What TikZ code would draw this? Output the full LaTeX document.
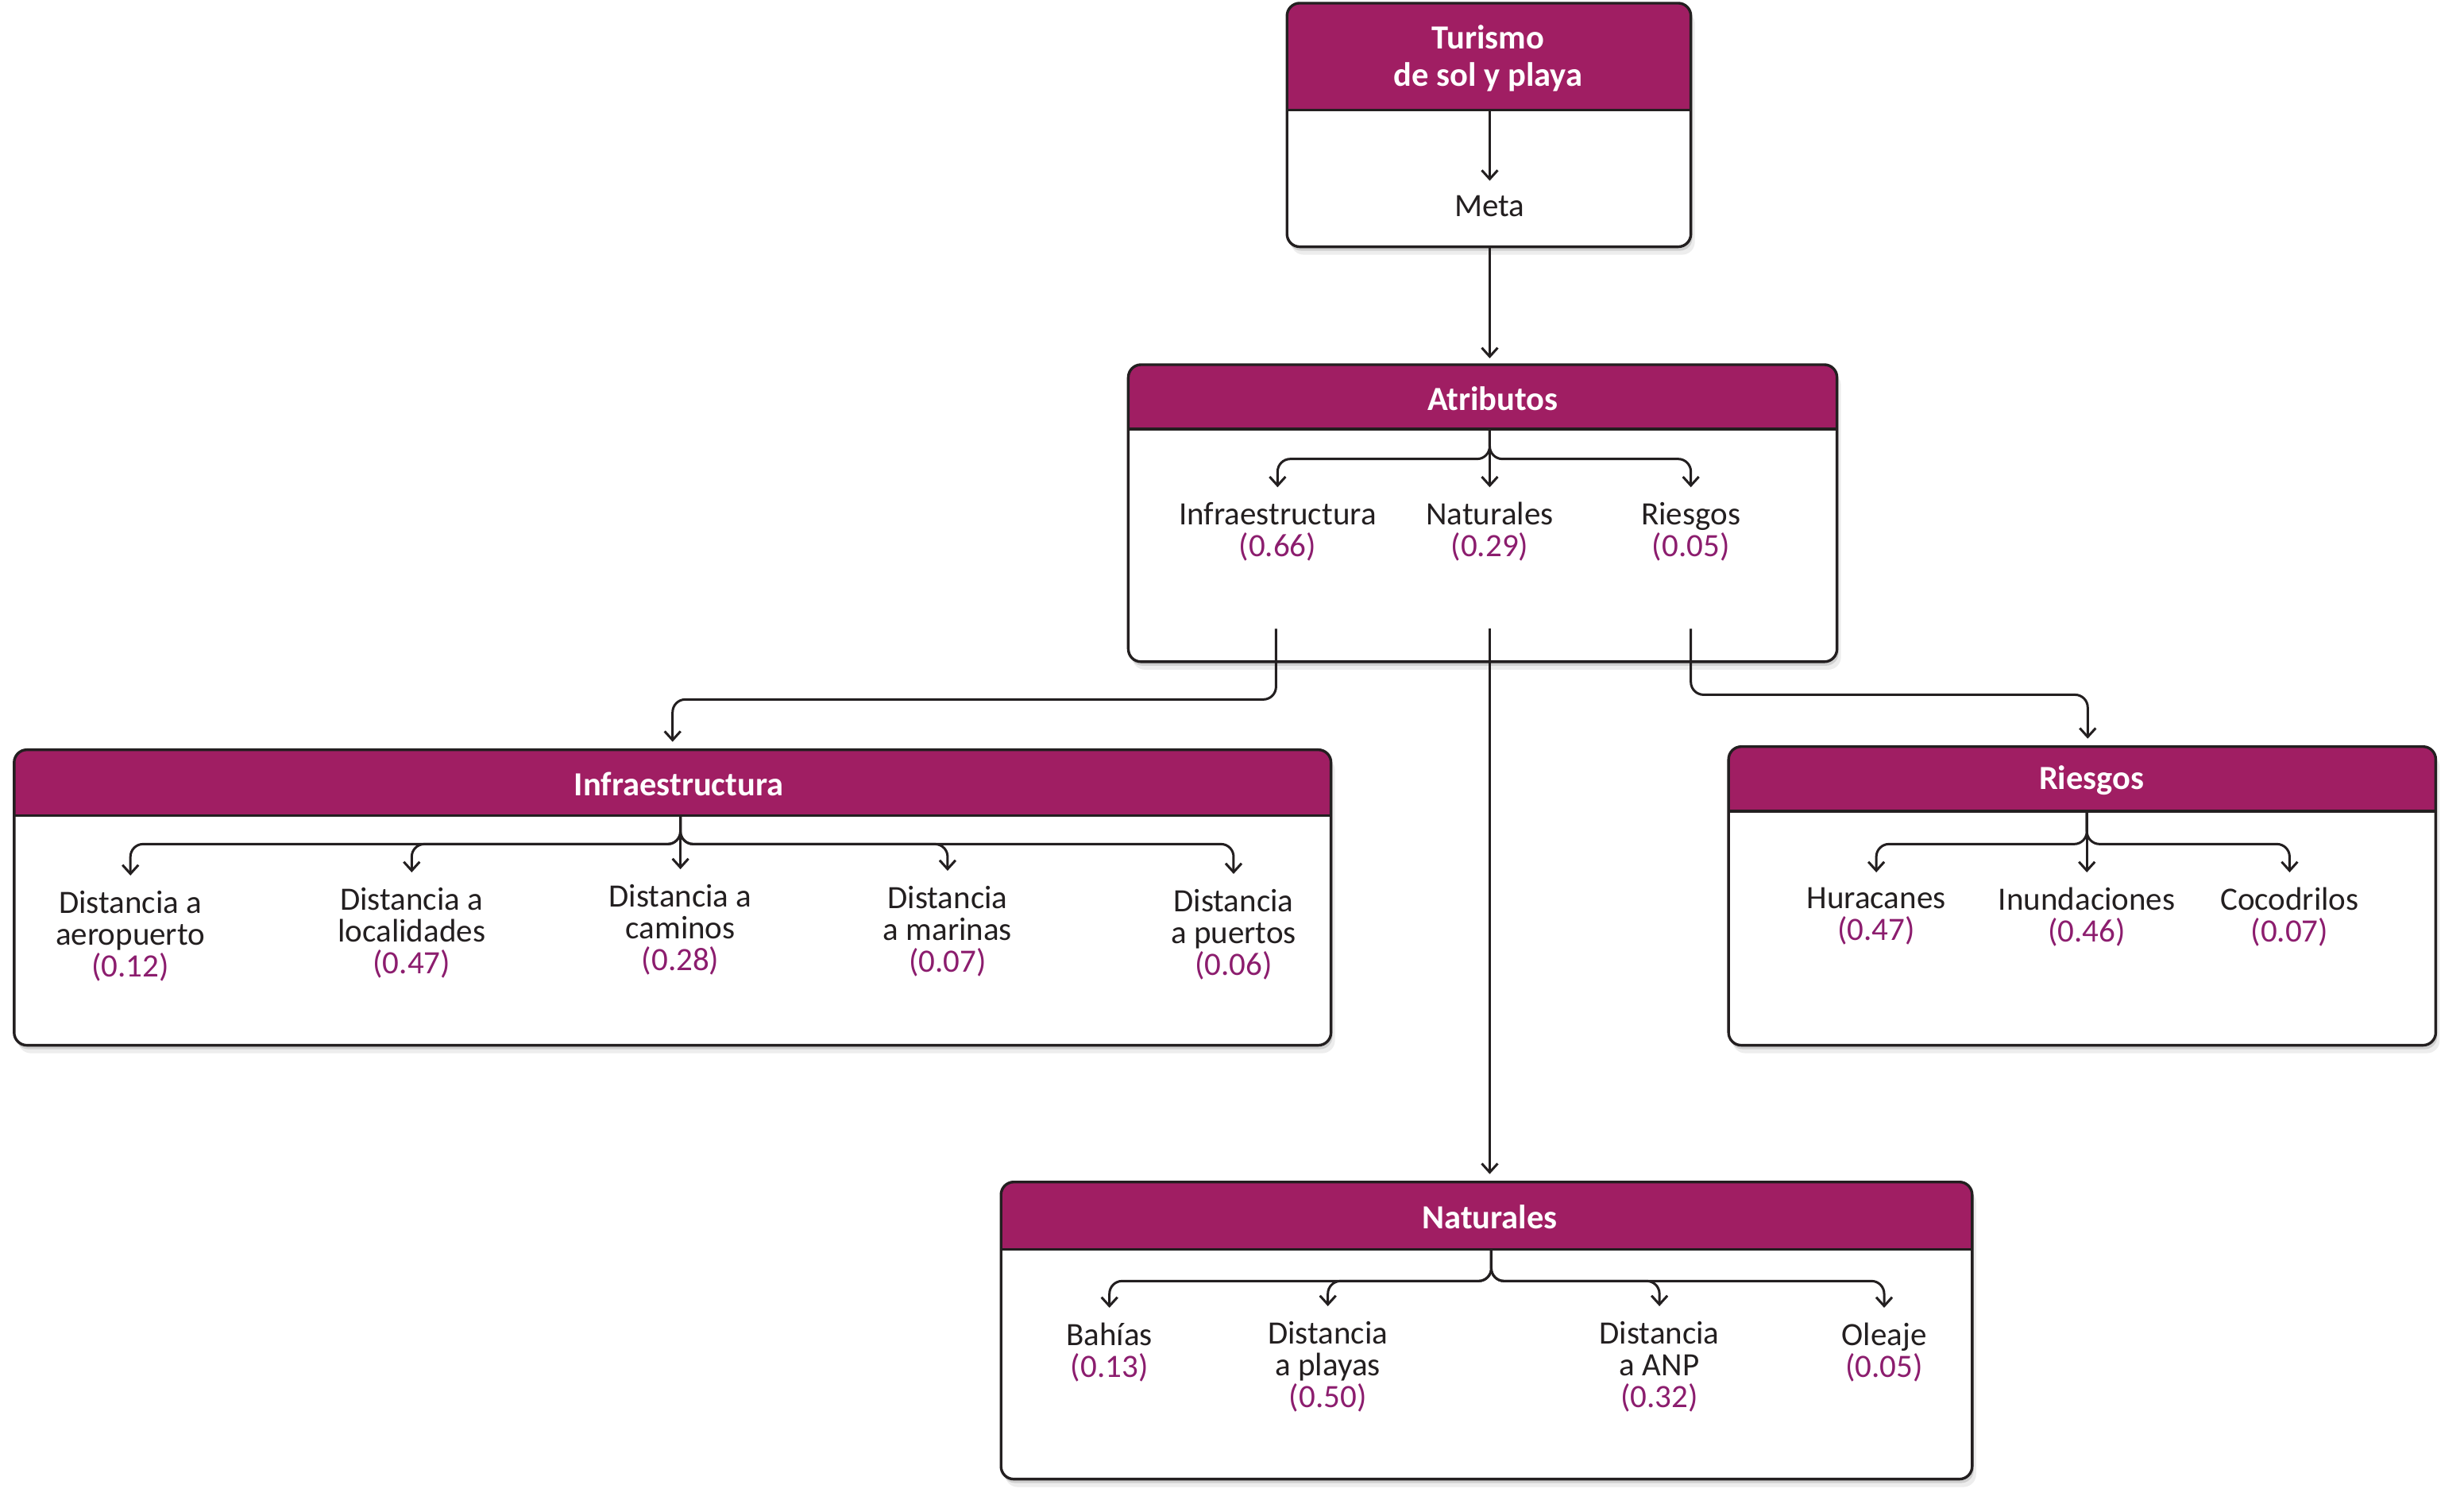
\documentclass[tikz,border=0pt]{standalone}
\usepackage{fontspec}
\setmainfont{Carlito}
\usetikzlibrary{arrows.meta,shadows,fit}
\definecolor{hdr}{HTML}{A01E63}
\definecolor{num}{HTML}{8C1D6E}
\definecolor{ink}{HTML}{231F20}
\tikzset{
  boxbg/.style={inner sep=0pt, outer sep=0pt, rounded corners=16pt, fill=white,
    drop shadow={shadow xshift=2pt, shadow yshift=-5pt, opacity=.12, fill=black},
    drop shadow={shadow xshift=5pt, shadow yshift=-10pt, opacity=.07, fill=black}},
  boxline/.style={draw=ink, line width=3.4pt},
  hdrtxt/.style={text=white, font=\fontsize{42.5}{47}\selectfont\bfseries, align=center, inner sep=0pt},
  lbl/.style={text=ink, font=\fontsize{41}{40}\selectfont, align=center, inner sep=0pt, outer sep=19pt, anchor=north},
  conn/.style={draw=ink, line width=3pt, -{Straight Barb[length=11pt,width=20pt]}},
  fork/.style={conn, rounded corners=16pt},
}
% name, x1, y1, x2, y2, header bottom, title x, title
\newcommand\diabox[8]{%
  \node[boxbg, fit={(#2,#3) (#4,#5)}] (#1) {};
  \begin{scope}
    \clip[rounded corners=16pt] (#2,#3) rectangle (#4,#5);
    \fill[hdr] (#2,#3) rectangle (#4,#6);
  \end{scope}
  \draw[boxline, rounded corners=16pt] (#2,#3) rectangle (#4,#5);
  \draw[boxline] (#2,#6) -- (#4,#6);
  \node[hdrtxt] (#1T) at (#7,{(#3+#6)/2+1}) {#8};
}
\begin{document}
\begin{tikzpicture}[x=1.9783pt, y=-1.9783pt]
\useasboundingbox (0,0) rectangle (1568,959);

\diabox{tur}{819}{2}{1076}{157}{70}{947}{Turismo\\de sol y playa}
\diabox{atr}{718}{232}{1169}{421}{273}{950}{Atributos}
\diabox{inf}{9}{477}{847}{665}{519}{432}{Infraestructura}
\diabox{rie}{1100}{475}{1550}{665}{516}{1331}{Riesgos}
\diabox{nat}{637}{752}{1255}{941}{795}{948}{Naturales}

% Turismo -> Meta
\coordinate (turS) at (948,70);
\node[lbl] (meta) at (948,115) {Meta};
\draw[conn] (turS) -- (meta.north);
\draw[conn, shorten >=8pt] (turS |- tur.south) -- (turS |- atr.north);

% Atributos
\coordinate (atrS) at (948,273);
\node[lbl] (aI) at (813,310) {Infraestructura\\\textcolor{num}{(0.66)}};
\node[lbl] (aN) at (948,310) {Naturales\\\textcolor{num}{(0.29)}};
\node[lbl] (aR) at (1076,310) {Riesgos\\\textcolor{num}{(0.05)}};
\draw[fork] (atrS) -- ++(0,19) -| (aI.north);
\draw[conn] (atrS) -- (aN.north);
\draw[fork] (atrS) -- ++(0,19) -| (aR.north);

\coordinate (aI0) at (812,400);
\coordinate (aN0) at (948,400);
\coordinate (aR0) at (1076,400);
\draw[fork, shorten >=10pt] (aI0) -- ++(0,45) -| (inf.north);
\draw[conn, shorten >=10pt] (aN0) -- (aN0 |- nat.north);
\draw[fork, shorten >=10pt] (aR0) -- ++(0,42) -| ([xshift=7pt]rie.north);

% Infraestructura
\coordinate (infS) at (433,519);
\node[lbl] (i1) at (83,557) {Distancia a\\aeropuerto\\\textcolor{num}{(0.12)}};
\node[lbl] (i2) at (262,555) {Distancia a\\localidades\\\textcolor{num}{(0.47)}};
\node[lbl] (i3) at (433,553) {Distancia a\\caminos\\\textcolor{num}{(0.28)}};
\node[lbl] (i4) at (603,554) {Distancia\\a marinas\\\textcolor{num}{(0.07)}};
\node[lbl] (i5) at (785,556) {Distancia\\a puertos\\\textcolor{num}{(0.06)}};
\draw[fork] (infS) -- ++(0,18) -| (i1.north);
\draw[fork] (infS) -- ++(0,18) -| (i2.north);
\draw[conn] (infS) -- (i3.north);
\draw[fork] (infS) -- ++(0,18) -| (i4.north);
\draw[fork] (infS) -- ++(0,18) -| (i5.north);

% Riesgos
\coordinate (rieS) at (1328,516);
\node[lbl] (r1) at (1194,555) {Huracanes\\\textcolor{num}{(0.47)}};
\node[lbl] (r2) at (1328,555) {Inundaciones\\\textcolor{num}{(0.46)}};
\node[lbl] (r3) at (1457,555) {Cocodrilos\\\textcolor{num}{(0.07)}};
\draw[fork] (rieS) -- ++(0,21) -| (r1.north);
\draw[conn] (rieS) -- (r2.north);
\draw[fork] (rieS) -- ++(0,21) -| (r3.north);

% Naturales
\coordinate (natS) at (949,795);
\node[lbl] (n1) at (706,832) {Bahías\\\textcolor{num}{(0.13)}};
\node[lbl] (n2) at (845,831) {Distancia\\a playas\\\textcolor{num}{(0.50)}};
\node[lbl] (n3) at (1056,831) {Distancia\\a ANP\\\textcolor{num}{(0.32)}};
\node[lbl] (n4) at (1199,832) {Oleaje\\\textcolor{num}{(0.05)}};
\draw[fork] (natS) -- ++(0,20) -| (n1.north);
\draw[fork] (natS) -- ++(0,20) -| (n2.north);
\draw[fork] (natS) -- ++(0,20) -| (n3.north);
\draw[fork] (natS) -- ++(0,20) -| (n4.north);
\end{tikzpicture}
\end{document}
